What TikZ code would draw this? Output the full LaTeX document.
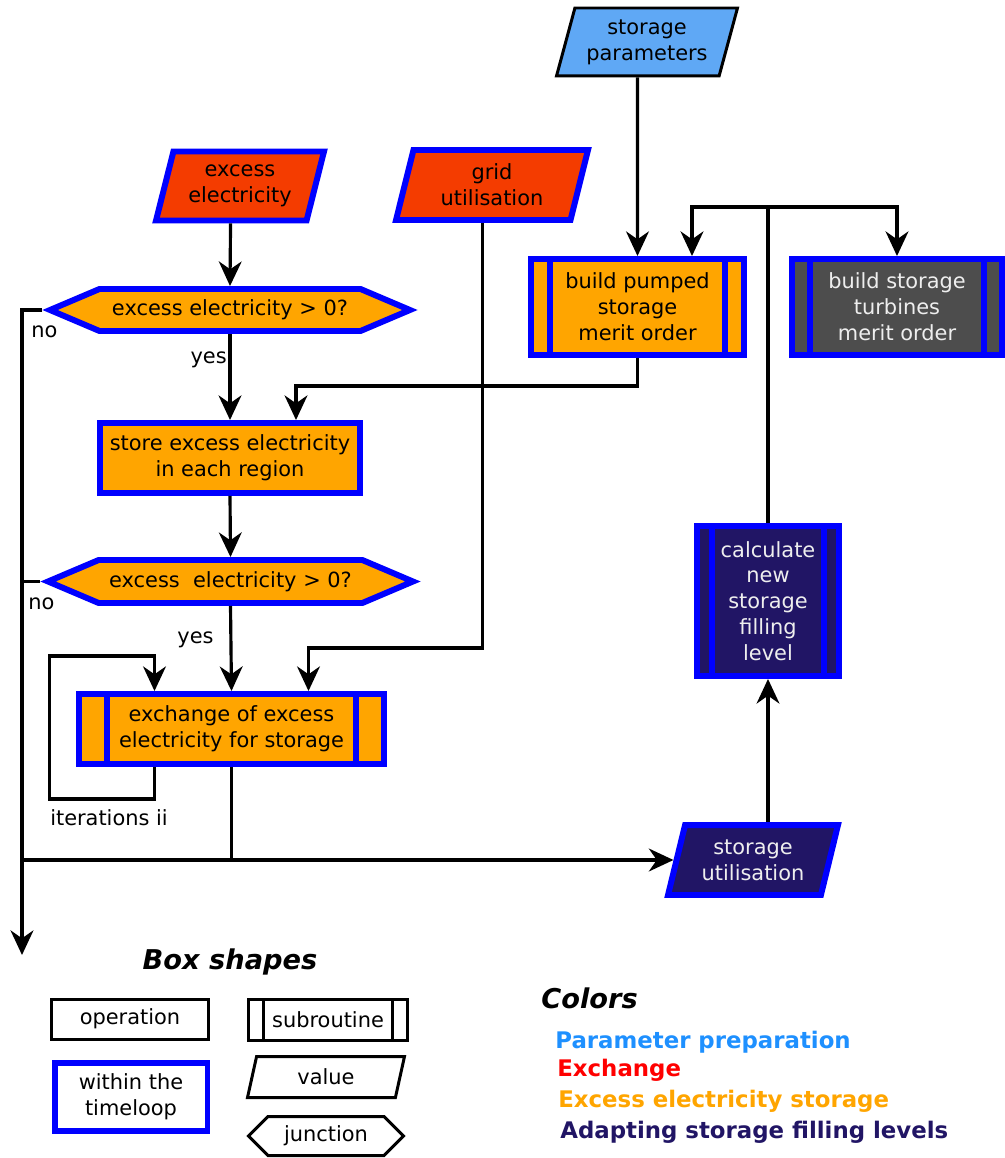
\documentclass[tikz,border=0pt]{standalone}
\usepackage{fontspec}
\setmainfont{DejaVu Sans}
\usetikzlibrary{arrows.meta,shapes.geometric,shapes.symbols,calc}
\definecolor{exorange}{HTML}{FFA500}
\definecolor{exred}{HTML}{F43C00}
\definecolor{parblue}{HTML}{5FA8F5}
\definecolor{tgray}{HTML}{4D4D4D}
\definecolor{adnavy}{HTML}{211565}
\definecolor{legblue}{HTML}{1E90FF}
\definecolor{boxtext}{HTML}{EEEEEE}
\tikzset{
  box/.style={rectangle, draw=blue, line width=3.4pt, align=center},
  val/.style={trapezium, trapezium left angle=72, trapezium right angle=108,
    trapezium stretches body, draw=blue, line width=3.4pt, align=center},
  jct/.style={signal, signal to=west and east, signal pointer angle=46,
    draw=blue, line width=3.4pt, fill=exorange},
  arr/.style={-{Stealth[length=14pt,width=13pt,inset=4.5pt]}, line width=1.8pt},
  con/.style={line width=1.8pt},
  lbl/.style={inner sep=1pt},
  legtitle/.style={font=\fontsize{15.5}{18}\selectfont\bfseries\itshape},
  legcol/.style={anchor=west, inner sep=0pt, font=\fontsize{13}{15}\selectfont\bfseries}
}
\begin{document}
\begin{tikzpicture}[x=0.02cm, y=-0.02cm, font=\fontsize{11.9}{14.7}\selectfont]
\useasboundingbox (0,0) rectangle (1004,1158);

% values and boxes
\node[val, fill=parblue, draw=black, line width=1.7pt, minimum width=3.62cm, minimum height=1.36cm] (params) at (647,42) {storage\\parameters};
\node[val, fill=exred, minimum width=3.36cm, minimum height=1.38cm] (exel) at (240,186) {excess\\electricity};
\node[val, fill=exred, minimum width=3.84cm, minimum height=1.4cm] (grid) at (492,185) {grid\\utilisation};
\node[box, fill=exorange, minimum width=4.26cm, minimum height=1.92cm] (pump) at (637.5,307) {build pumped\\storage\\merit order};
\node[box, fill=tgray, text=boxtext, minimum width=4.2cm, minimum height=1.92cm] (turb) at (897,307) {build storage\\turbines\\merit order};
\node[jct, minimum width=7.2cm, minimum height=0.84cm] (j1) at (230,310) {excess electricity > 0?};
\node[box, fill=exorange, minimum width=5.2cm, minimum height=1.4cm] (store) at (230,458) {store excess electricity\\in each region};
\node[jct, minimum width=7.3cm, minimum height=0.86cm] (j2) at (230.5,581.5) {excess\ \ electricity > 0?};
\node[box, fill=exorange, minimum width=6.1cm, minimum height=1.4cm] (exch) at (231.5,729) {exchange of excess\\electricity for storage};
\node[box, fill=adnavy, text=boxtext, minimum width=2.84cm, minimum height=3.0cm] (calc) at (768,601) {calculate\\new\\storage\\filling\\level};
\node[val, fill=adnavy, text=boxtext, minimum width=3.4cm, minimum height=1.4cm] (util) at (753,860) {storage\\utilisation};

% subroutine bars
\foreach \n/\o in {pump/22,turb/21,calc/18,exch/31}
  \draw[blue, line width=3.4pt] ($(\n.north west)+(\o,0)$) -- ($(\n.south west)+(\o,0)$)
    ($(\n.north east)+(-\o,0)$) -- ($(\n.south east)+(-\o,0)$);

% connectors
\coordinate (exit) at (22,955);
\draw[arr] (params.bottom side) -- (pump.north);
\draw[arr] (exel.bottom side) -- (j1.north);
\draw[arr] (j1.south) -- (store.north) node[lbl, pos=0.3, left=0pt] (yes1) {yes};
\draw[arr] (pump.south) -- ++(0,28) -| ($(store.north)+(66,0)$);
\draw[arr] (store.south) -- (j2.north);
\draw[arr] (j2.south) -- (exch.north) node[lbl, pos=0.4, left=8pt] (yes2) {yes};
\draw[arr] (grid.bottom side) |- ($(exch.north)+(77,-43)$) -- ($(exch.north)+(77,0)$);
\draw[arr] ($(exch.south)+(-77,0)$) |- ++(-105,32) |- ($(exch.north)+(-77,-35)$) -- ($(exch.north)+(-77,0)$);
\draw[arr] (util.top side -| calc.south) -- (calc.south);
\draw[arr] (calc.north) -- ++(0,-316) coordinate (split) -| ($(pump.north)+(54.5,0)$);
\draw[arr] (split) -| (turb.north);
\draw[arr] (j1.west) -| (exit);
\draw[con] (j2.west) -- (j2.west -| exit);
\draw[arr] (exch.south) |- (util.left side);
\draw[con] (exit |- util.left side) -- (exch.south |- util.left side);

\node[lbl] (no1) at ($(j1.west)+(2,22)$) {no};
\node[lbl] (no2) at ($(j2.west)+(1,22)$) {no};
\node[lbl] (iter) at (109,818) {iterations ii};

% legend: box shapes
\node[legtitle] (tshape) at (230,962) {Box shapes};
\node[box, draw=black, line width=1.7pt, minimum width=3.14cm, minimum height=0.8cm] (lop) at (130,1019) {operation};
\node[box, minimum width=3.06cm, minimum height=1.36cm] (ltime) at (131,1097) {within the\\timeloop};
\node[box, draw=black, line width=1.7pt, minimum width=3.18cm, minimum height=0.82cm] (lsub) at (328,1020) {subroutine};
\draw[line width=1.7pt] ($(lsub.north west)+(16,0)$) -- ($(lsub.south west)+(16,0)$)
  ($(lsub.north east)+(-16,0)$) -- ($(lsub.south east)+(-16,0)$);
\node[val, draw=black, line width=1.7pt, minimum width=3.14cm, minimum height=0.82cm] (lval) at (326,1077) {value};
\node[jct, draw=black, fill=none, line width=1.7pt, signal pointer angle=90, minimum width=3.1cm, minimum height=0.78cm] (ljct) at (326,1136) {junction};

% legend: colors
\node[legtitle, anchor=west, inner sep=0pt] (tcol) at (541,998) {Colors};
\node[legcol, text=legblue] (cpar) at (555,1042) {Parameter preparation};
\node[legcol, text=red] (cexc) at (557,1070) {Exchange};
\node[legcol, text=exorange] (cstor) at (558,1101) {Excess electricity storage};
\node[legcol, text=adnavy] (cadapt) at (560,1132) {Adapting storage filling levels};
\end{tikzpicture}
\end{document}
